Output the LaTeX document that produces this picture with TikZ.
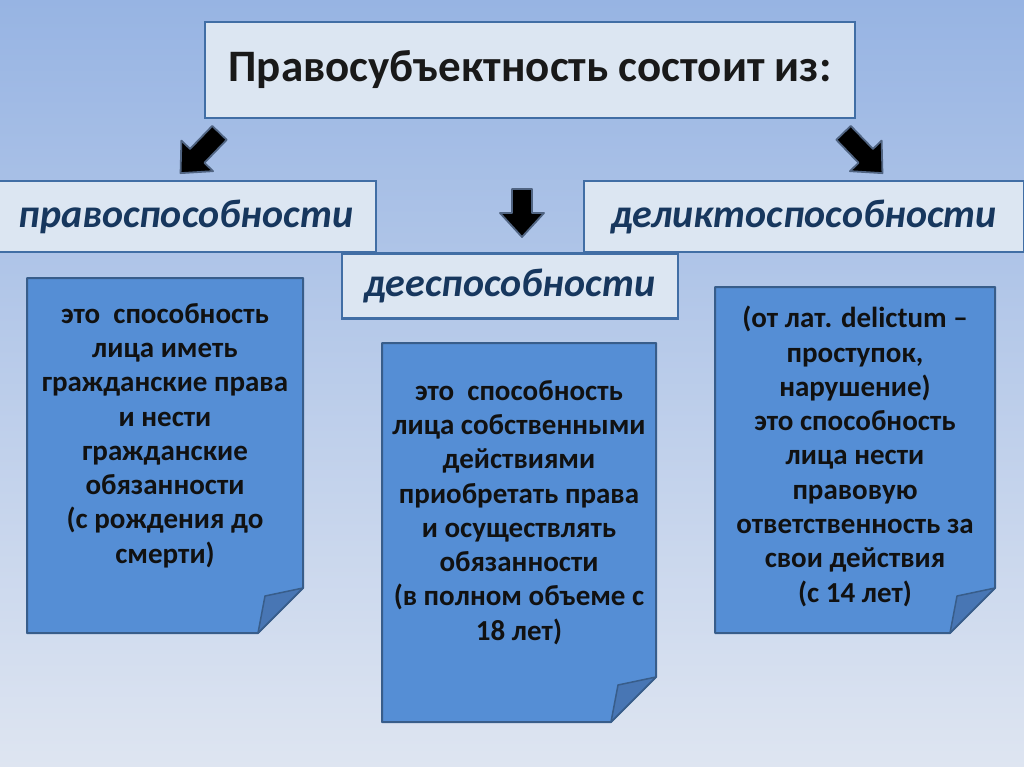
\documentclass[tikz,border=0pt]{standalone}
\usepackage{fontspec}
\setmainfont{Carlito}
\definecolor{bgtop}{RGB}{151,180,227}
\definecolor{bgbot}{RGB}{222,229,241}
\definecolor{boxfill}{RGB}{220,230,242}
\definecolor{boxline}{RGB}{65,110,165}
\definecolor{headtext}{RGB}{23,55,94}
\definecolor{cardfill}{RGB}{85,142,213}
\definecolor{cardline}{RGB}{56,93,138}
\definecolor{flapfill}{RGB}{72,118,180}
\definecolor{arrowline}{RGB}{80,100,130}
\definecolor{cardtext}{RGB}{17,17,17}
\begin{document}
\begin{tikzpicture}[x=1pt,y=-1pt,
  titlebox/.style={draw=boxline,line width=2.5pt,fill=boxfill,inner sep=0pt,
    font=\fontsize{45}{54}\selectfont\bfseries,text=black!90},
  headbox/.style={draw=boxline,line width=2.5pt,fill=boxfill,inner sep=0pt,
    font=\fontsize{40}{48}\selectfont\bfseries\itshape,text=headtext},
  cardtxt/.style={inner sep=0pt,align=center,text=cardtext,
    font=\fontsize{29}{34.3}\selectfont\bfseries},
  cardshape/.style={draw=cardline,line width=2pt,fill=cardfill,line join=round},
  flap/.style={draw=cardline,line width=1.5pt,fill=flapfill,line join=round},
  barrow/.pic={\draw[arrowline,line width=1.8pt,fill=black,line join=round]
     (-#1,-10) -- (#1-24,-10) -- (#1-24,-22) -- (#1,0) -- (#1-24,22) -- (#1-24,10) -- (-#1,10) -- cycle;},
  barrow/.default=28]
\useasboundingbox (0,0) rectangle (1024,767);
\shade[top color=bgtop,bottom color=bgbot] (0,0) rectangle (1024,767);

% title
\node[titlebox,minimum width=650pt,minimum height=96pt] (title) at (530,70) {Правосубъектность состоит из:};

% heading boxes
\node[headbox,minimum width=380pt,minimum height=71pt] (prav) at (186,216.5) {правоспособности};
\node[headbox,minimum width=440pt,minimum height=71pt] (delikt) at (804,216.5) {деликтоспособности};
\node[headbox,minimum width=336pt,minimum height=65pt] (dee) at (510,286) {дееспособности};

% arrows
\pic[rotate=-134] at (200,153) {barrow=28};
\pic[rotate=-90] at (522,213) {barrow=24};
\pic[rotate=-46] at (863,153) {barrow=28};

% cards
\draw[cardshape] (27,278) -- (303,278) -- (303,588) -- (258,633) -- (27,633) -- cycle;
\draw[flap] (303,588) -- (265,596) -- (258,633) -- cycle;
\draw[cardshape] (382,343) -- (656,343) -- (656,677) -- (611,722) -- (382,722) -- cycle;
\draw[flap] (656,677) -- (618,685) -- (611,722) -- cycle;
\draw[cardshape] (715,287) -- (995,287) -- (995,588) -- (950,633) -- (715,633) -- cycle;
\draw[flap] (995,588) -- (957,596) -- (950,633) -- cycle;

\node[cardtxt,anchor=north] (t1) at (165,303) {это\ \ способность\\лица иметь\\гражданские права\\и нести\\гражданские\\обязанности\\(с рождения до\\смерти)};
\node[cardtxt,anchor=north] (t2) at (519,380) {это\ \ способность\\лица собственными\\действиями\\приобретать права\\и осуществлять\\обязанности\\(в полном объеме с\\18 лет)};
\node[cardtxt,anchor=north] (t3) at (855,306) {(от лат. delictum –\\проступок,\\нарушение)\\это способность\\лица нести\\правовую\\ответственность за\\свои действия\\(с 14 лет)};
\end{tikzpicture}
\end{document}
